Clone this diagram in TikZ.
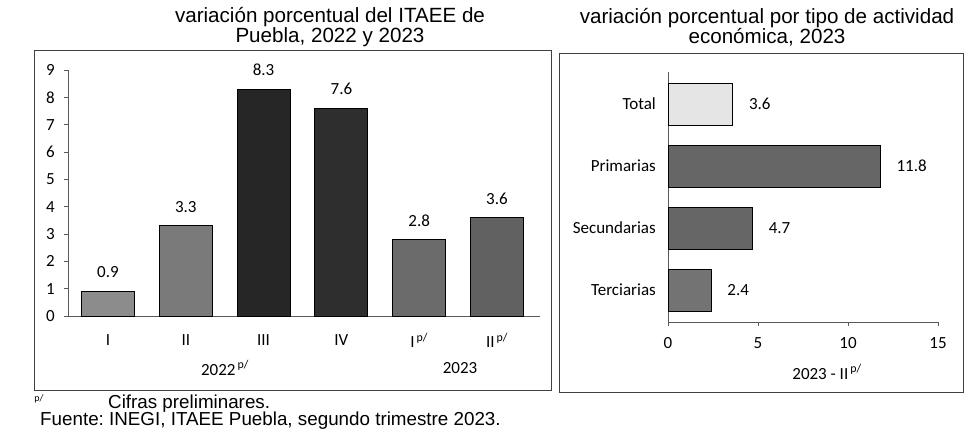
\documentclass[tikz,border=0pt]{standalone}
\usepackage{fontspec}
\setmainfont{Liberation Sans}
\newfontfamily\calfont{Carlito}
\frenchspacing
\begin{document}
\begin{tikzpicture}[x=1pt,y=-1pt,
  ttl/.style={font=\fontsize{20.6}{22}\selectfont, inner sep=0pt, anchor=base},
  lab/.style={font=\calfont\fontsize{17}{19}\selectfont, inner sep=1pt},
  foot/.style={font=\fontsize{18.8}{20}\selectfont, inner sep=0pt, anchor=base west},
  barbox/.style={draw=black, line width=0.9pt},
  frm/.style={draw=black!75, line width=0.7pt},
  axline/.style={draw=black!65, line width=0.7pt}]
\useasboundingbox (0,0) rectangle (971,440);
% ---------- titles
\node[ttl] (t1a) at (330,22) {variación porcentual del ITAEE de};
\node[ttl] (t1b) at (330,42) {Puebla, 2022 y 2023};
\node[ttl] (t2a) at (767,23) {variación porcentual por tipo de actividad};
\node[ttl] (t2b) at (767,43) {económica, 2023};
% ---------- left chart
\draw[frm] (34,50) rectangle (551,390);
\coordinate (ya) at (68,316);
\coordinate (yb) at (68,70);
\coordinate (xe) at (540,316);
\draw[axline] (ya) -- (yb);
\draw[axline] (ya) -- (xe);
\foreach \k in {0,...,9}{
  \pgfmathsetmacro{\yy}{316-27.33*\k}
  \draw[axline] (64,\yy) -- (68,\yy);
  \node[lab, anchor=east] (yt\k) at (56,\yy) {\k};
}
\foreach \i/\v/\c/\lb in {0/0.9/black!45/I, 1/3.3/black!52/II, 2/8.3/black!85/III, 3/7.6/black!82/IV, 4/2.8/black!58/{I\textsuperscript{\,p/}}, 5/3.6/black!62/{II\textsuperscript{\,p/}}}{
  \pgfmathsetmacro{\cx}{108+77.8*\i}
  \pgfmathsetmacro{\top}{316-27.33*\v}
  \fill[\c] (\cx-26.5,316) rectangle (\cx+26.5,\top);
  \draw[barbox] (\cx-26.5,316) rectangle (\cx+26.5,\top);
  \node[lab] (lv\i) at (\cx,\top-19) {\v};
  \node[lab] (lc\i) at (\cx,340) {\lb};
}
\node[lab] (y22) at (225,368) {2022\textsuperscript{\,p/}};
\node[lab] (y23) at (460,368) {2023};
% ---------- right chart
\draw[frm] (559,53) rectangle (963,392);
\coordinate (ra) at (668,322);
\coordinate (rb) at (668,72);
\coordinate (re) at (938,322);
\draw[axline] (ra) -- (rb);
\draw[axline] (ra) -- (re);
\foreach \k in {0,5,10,15}{
  \pgfmathsetmacro{\xx}{668+18*\k}
  \draw[axline] (\xx,322) -- (\xx,326);
  \node[lab] (xt\k) at (\xx,343) {\k};
}
\foreach \j/\n/\v/\c in {0/Total/3.6/black!10, 1/Primarias/11.8/black!60, 2/Secundarias/4.7/black!60, 3/Terciarias/2.4/black!55}{
  \pgfmathsetmacro{\cy}{104+62*\j}
  \pgfmathsetmacro{\xend}{668+18*\v}
  \fill[\c] (668,\cy-21) rectangle (\xend,\cy+21);
  \draw[barbox] (668,\cy-21) rectangle (\xend,\cy+21);
  \node[lab, anchor=east] (rc\j) at (657,\cy) {\n};
  \node[lab, anchor=west] (rv\j) at (\xend+15,\cy) {\v};
}
\node[lab] (xlab) at (827,372) {2023 - II\textsuperscript{\,p/}};
% ---------- footnotes
\node[font=\calfont\fontsize{10}{11}\selectfont, inner sep=0pt] (pnote) at (39,399) {p/};
\node[foot] (cifras) at (108,408.5) {Cifras preliminares.};
\node[foot] (fuente) at (40,425.5) {Fuente: INEGI, ITAEE Puebla, segundo trimestre 2023.};
\end{tikzpicture}
\end{document}
